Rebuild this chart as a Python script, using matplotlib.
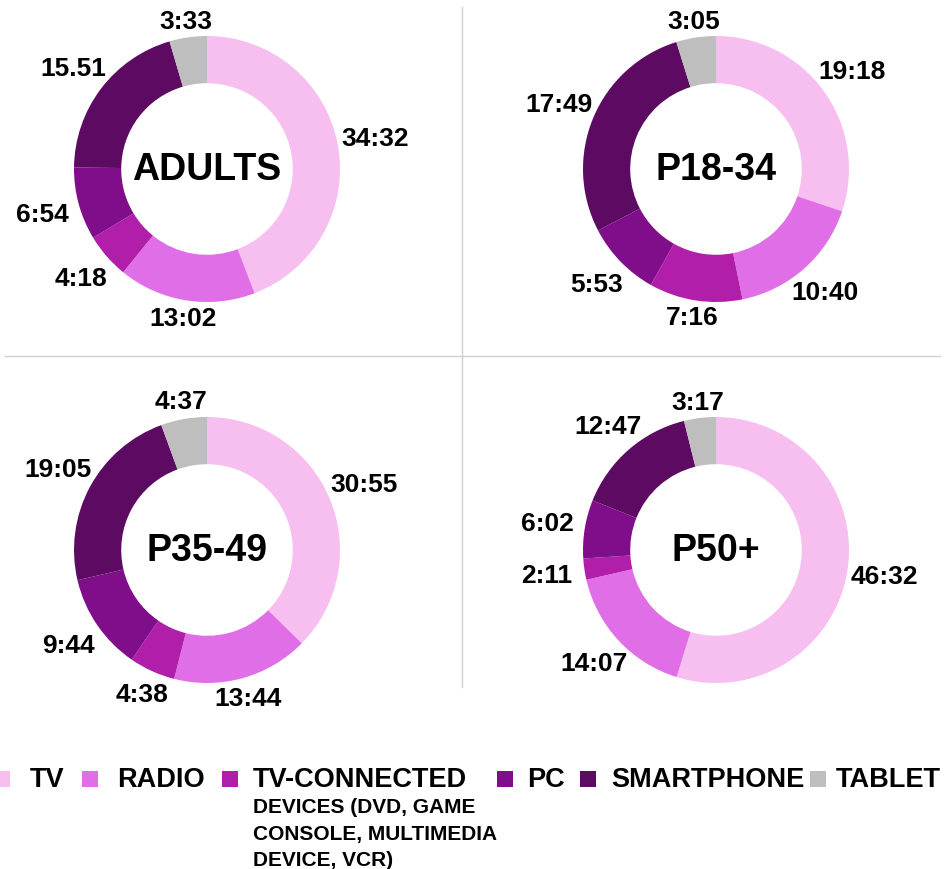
import matplotlib
matplotlib.use("Agg")
import matplotlib.pyplot as plt
from matplotlib.patches import Rectangle
from matplotlib.lines import Line2D
import numpy as np

plt.rcParams['font.family'] = ['Liberation Sans', 'DejaVu Sans']

categories = ["TV", "RADIO", "TV-CONNECTED", "PC", "SMARTPHONE", "TABLET"]
colors = ["#F7BEF0", "#E06EE6", "#B01EAA", "#800D8A", "#5C0A62", "#BEBEBE"]

groups = ["ADULTS", "P18-34", "P35-49", "P50+"]
adults_labels = ["34:32", "13:02", "4:18", "6:54", "15.51", "3:33"]
p18_34_labels = ["19:18", "10:40", "7:16", "5:53", "17:49", "3:05"]
p35_49_labels = ["30:55", "13:44", "4:38", "9:44", "19:05", "4:37"]
p50_labels = ["46:32", "14:07", "2:11", "6:02", "12:47", "3:17"]
all_labels = [adults_labels, p18_34_labels, p35_49_labels, p50_labels]


def to_minutes(s):
    if ":" in s:
        m, sec = s.split(":")
    else:
        m, sec = s.split(".")
    return int(m) + int(sec) / 60.0


W, H = 947, 870
fig = plt.figure(figsize=(W / 100, H / 100), dpi=100)

centers = [(207, 170), (716, 170), (207, 551), (716, 551)]
R_PX = 133.0
L = 1.45
half = L * R_PX

for (cx, cy), name, labels in zip(centers, groups, all_labels):
    vals = np.array([to_minutes(s) for s in labels])
    left = (cx - half) / W
    bottom = (H - cy - half) / H
    ax = fig.add_axes([left, bottom, 2 * half / W, 2 * half / H])
    wedges, _ = ax.pie(vals, colors=colors, startangle=90, counterclock=False,
                       radius=1.0, wedgeprops=dict(width=0.355, linewidth=0))
    ax.set_xlim(-L, L)
    ax.set_ylim(-L, L)
    ax.set_aspect('equal')
    ax.axis('off')
    ax.text(0, 0, name, ha='center', va='center', fontsize=27,
            fontweight='bold', color='black')
    # data labels outside the ring
    total = vals.sum()
    cum = np.cumsum(vals) - vals / 2
    for lab, c in zip(labels, cum):
        ang = 2 * np.pi * c / total  # clockwise from top
        sx, sy = np.sin(ang), np.cos(ang)
        off = 0.05 + abs(sx) * 0.23 + abs(sy) * 0.045
        rr = 1.0 + off
        ax.text(rr * sx, rr * sy, lab, ha='center', va='center', fontsize=19,
                fontweight='bold', color='black', clip_on=False)

# separator lines
fig.add_artist(Line2D([462 / W, 462 / W], [1 - 8 / H, 1 - 688 / H],
                      color='#D0D0D0', linewidth=1))
fig.add_artist(Line2D([5 / W, 940 / W], [1 - 357 / H, 1 - 357 / H],
                      color='#D0D0D0', linewidth=1))

# legend
sq_x = [-6, 82, 222, 497, 580, 810]
tx_x = [30, 117, 253, 527, 611, 836]
leg_y = 780
sq = 16
for cat, col, sx_, tx_ in zip(categories, colors, sq_x, tx_x):
    fig.add_artist(Rectangle((sx_ / W, 1 - (leg_y + sq / 2) / H), sq / W, sq / H,
                             transform=fig.transFigure, facecolor=col,
                             edgecolor='none'))
    fig.text(tx_ / W, 1 - leg_y / H, cat, ha='left', va='center', fontsize=19.5,
             fontweight='bold', color='black')
sub_lines = ["DEVICES (DVD, GAME", "CONSOLE, MULTIMEDIA", "DEVICE, VCR)"]
for i, s in enumerate(sub_lines):
    fig.text(253 / W, 1 - (808 + 26.5 * i) / H, s, ha='left', va='center',
             fontsize=15, fontweight='bold', color='black')

fig.savefig("out.png", dpi=100)
